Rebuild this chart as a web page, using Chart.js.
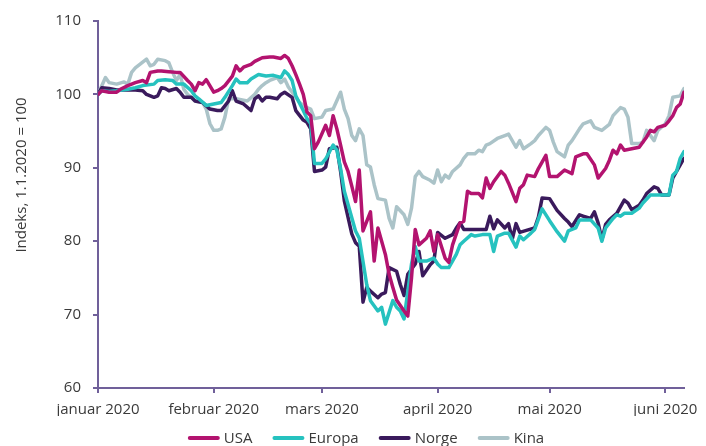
<!DOCTYPE html>
<html>
<head>
<meta charset="utf-8">
<script src="https://cdn.jsdelivr.net/npm/chart.js@4"></script>
<style>
  body { margin: 0; background: #fff; }
  canvas { display: block; }
</style>
</head>
<body>
<canvas id="chart" width="706" height="446"></canvas>
<script>
// x values are days counted from 1 January 2020
const monthStarts = [0, 31, 60, 91, 121, 152];
const monthLabels = ['januar 2020', 'februar 2020', 'mars 2020', 'april 2020', 'mai 2020', 'juni 2020'];

const yTicks = [60, 70, 80, 90, 100, 110];

const usa = [
  [0, 100], [1, 100.5], [3, 100.3], [5, 100.3], [6, 100.7], [8, 101.2], [9, 101.4], [10, 101.6],
  [12, 101.9], [13, 101.6], [14, 103], [16, 103.2], [17, 103.2], [19, 103.1], [21, 103], [22, 103],
  [24, 101.9], [25, 101.4], [26, 100.5], [27, 101.6], [28, 101.4], [29, 102], [31, 100.3], [32, 100.5],
  [33, 100.8], [34, 101.2], [36, 102.5], [37, 103.9], [38, 103.2], [39, 103.7], [41, 104.1], [42, 104.5],
  [44, 105], [46, 105.1], [47, 105.1], [49, 104.9], [50, 105.3], [51, 104.9], [52, 103.9], [53, 102.7],
  [54, 101.4], [55, 100], [56, 97.6], [57, 97.1], [58, 92.6], [59, 93.5], [61, 95.8], [62, 94.4],
  [63, 97.1], [64, 95.3], [65, 93.1], [66, 90.8], [67, 89.5], [68, 87.5], [69, 85.4], [70, 89.7],
  [71, 81.4], [73, 84], [74, 77.3], [75, 81.8], [77, 78.2], [78, 75.5], [79, 73.7], [80, 72],
  [82, 70.5], [83, 69.8], [84, 75], [85, 81.6], [86, 79.5], [88, 80.4], [89, 81.4], [90, 78.6],
  [91, 80.9], [93, 77.7], [94, 77.1], [95, 79.5], [97, 82.5], [98, 82.7], [99, 86.8], [100, 86.5],
  [102, 86.5], [103, 85.9], [104, 88.6], [105, 87.2], [106, 88.1], [108, 89.5], [109, 89], [110, 87.9],
  [112, 85.4], [113, 87.2], [114, 87.7], [115, 89], [117, 88.8], [118, 89.9], [120, 91.7], [121, 88.8],
  [123, 88.8], [125, 89.7], [127, 89.2], [128, 91.5], [130, 91.9], [131, 91.9], [133, 90.4], [134, 88.6],
  [136, 89.9], [137, 91], [138, 92.4], [139, 91.9], [140, 93.1], [141, 92.4], [143, 92.6], [145, 92.8],
  [147, 94.2], [148, 95.1], [149, 94.9], [150, 95.5], [152, 95.8], [153, 96.4], [154, 97.1], [155, 98.2],
  [156, 98.7], [157, 100.3],
];

const europa = [
  [0, 100], [1, 100.5], [3, 100.4], [5, 100.5], [8, 100.7], [10, 100.9], [12, 101.2], [15, 101.4],
  [16, 101.9], [18, 102], [20, 101.9], [21, 101.4], [23, 101.4], [25, 100.5], [26, 99.8], [27, 99.4],
  [29, 98.5], [31, 98.7], [33, 98.9], [34, 99.6], [36, 101.2], [37, 102.1], [38, 101.6], [40, 101.6],
  [41, 102.1], [43, 102.7], [45, 102.5], [47, 102.6], [49, 102.3], [50, 103.2], [51, 102.7], [52, 101.9],
  [53, 99.8], [55, 97.8], [56, 96.7], [57, 96], [58, 90.6], [60, 90.6], [61, 91.2], [63, 93.1],
  [64, 92.4], [65, 89.9], [66, 86.8], [67, 85], [69, 81.4], [70, 80.4], [72, 74.1], [73, 71.9],
  [75, 70.5], [76, 71], [77, 68.7], [79, 71.9], [80, 71], [81, 70.5], [82, 69.4], [84, 76.9],
  [85, 79.3], [86, 77.3], [88, 77.3], [90, 77.7], [91, 76.9], [92, 76.4], [94, 76.4], [96, 78.2],
  [97, 79.5], [98, 80], [100, 80.9], [101, 80.7], [103, 80.9], [105, 80.9], [106, 78.6], [107, 80.7],
  [109, 81.1], [110, 81.1], [112, 79.2], [113, 80.7], [114, 80.2], [116, 81.1], [117, 81.6], [119, 84.4],
  [121, 82.8], [123, 81.3], [125, 80], [126, 81.4], [128, 81.8], [129, 82.9], [132, 82.9], [134, 81.8],
  [135, 80], [136, 81.8], [138, 83.1], [139, 83.6], [140, 83.4], [141, 83.8], [143, 83.8], [145, 84.5],
  [146, 85.2], [148, 86.3], [151, 86.3], [153, 86.3], [154, 89], [155, 89.5], [156, 91.3], [157, 92.2],
];

const norge = [
  [0, 100], [1, 100.9], [3, 100.8], [5, 100.6], [8, 100.6], [10, 100.6], [12, 100.5], [13, 100],
  [15, 99.6], [16, 99.8], [17, 100.9], [18, 100.8], [19, 100.5], [21, 100.8], [22, 100.3], [23, 99.6],
  [25, 99.6], [26, 99.1], [28, 98.9], [30, 98], [32, 97.8], [33, 97.8], [35, 99.1], [36, 100.5],
  [37, 99.1], [39, 98.7], [41, 97.8], [42, 99.4], [43, 99.8], [44, 99.1], [45, 99.6], [46, 99.6],
  [48, 99.4], [49, 100], [50, 100.3], [52, 99.6], [53, 97.8], [55, 96.5], [56, 96.2], [57, 95.3],
  [58, 89.5], [60, 89.7], [61, 90.1], [62, 92.6], [64, 92.8], [65, 89.5], [66, 85.5], [68, 81],
  [69, 79.8], [70, 79.3], [71, 71.7], [72, 73.7], [73, 73.2], [75, 72.3], [76, 72.8], [77, 73],
  [78, 76.4], [80, 75.9], [81, 74.1], [82, 72.6], [83, 75.5], [85, 76.9], [86, 78.6], [87, 75.3],
  [89, 76.8], [90, 77.3], [91, 81.2], [93, 80.4], [95, 80.9], [96, 81.8], [97, 82.5], [98, 81.6],
  [101, 81.6], [104, 81.6], [105, 83.4], [106, 81.7], [107, 82.9], [109, 81.8], [110, 82.4], [111, 80.3],
  [112, 82.4], [113, 81.2], [115, 81.5], [117, 81.8], [118, 83.3], [119, 85.9], [121, 85.8], [123, 84.2],
  [125, 83.1], [126, 82.6], [127, 82], [129, 83.6], [130, 83.4], [132, 83.1], [133, 84], [134, 82.5],
  [135, 80.2], [136, 82.3], [137, 82.9], [139, 83.8], [141, 85.6], [142, 85.2], [143, 84.3], [145, 84.9],
  [146, 85.6], [147, 86.5], [149, 87.4], [150, 87.2], [151, 86.3], [153, 86.3], [154, 88.6], [155, 89.5],
  [156, 90.4], [157, 91.3],
];

const kina = [
  [0, 100], [2, 102.3], [3, 101.6], [5, 101.4], [7, 101.7], [8, 101.4], [9, 103], [10, 103.6],
  [13, 104.8], [14, 103.9], [15, 104.1], [16, 104.8], [18, 104.6], [19, 104.3], [20, 103], [21, 101.9],
  [22, 102.7], [23, 100.7], [24, 100], [25, 99.6], [26, 99.1], [28, 98.9], [29, 98], [30, 96],
  [31, 95.1], [32, 95.1], [33, 95.3], [34, 96.9], [35, 99.4], [37, 99.4], [40, 99.1], [42, 100],
  [43, 100.7], [44, 101.2], [45, 101.6], [46, 101.9], [48, 102.3], [49, 101.6], [50, 102.1], [51, 101],
  [53, 99.6], [54, 98.9], [55, 98.5], [56, 98.2], [57, 98], [58, 96.7], [60, 96.9], [61, 97.8],
  [63, 98], [65, 100.3], [66, 98], [67, 96.7], [68, 94.4], [69, 93.7], [70, 95.3], [71, 94.4],
  [72, 90.4], [73, 90.1], [74, 87.7], [75, 85.8], [77, 85.6], [78, 83.1], [79, 81.8], [80, 84.7],
  [82, 83.6], [83, 82.3], [84, 84.5], [85, 88.8], [86, 89.5], [87, 88.8], [89, 88.3], [90, 87.9],
  [91, 89.7], [92, 88.1], [93, 89], [94, 88.6], [95, 89.5], [97, 90.4], [98, 91.3], [99, 91.9],
  [101, 91.9], [102, 92.4], [103, 92.2], [104, 93.1], [105, 93.3], [107, 94], [109, 94.4], [110, 94.6],
  [112, 92.8], [113, 93.7], [114, 92.6], [116, 93.3], [117, 93.7], [118, 94.4], [120, 95.5], [121, 95.1],
  [122, 93.5], [123, 92.2], [125, 91.5], [126, 93.1], [127, 93.7], [129, 95.3], [130, 96], [132, 96.4],
  [133, 95.5], [135, 95.1], [137, 95.9], [138, 97.1], [140, 98.2], [141, 98], [142, 96.9], [143, 93.3],
  [145, 93.3], [146, 93.5], [147, 95.1], [149, 93.7], [150, 95.1], [152, 96], [153, 97.1], [154, 99.6],
  [156, 99.8], [157, 100.8],
];

const seriesNames = ['USA', 'Europa', 'Norge', 'Kina'];
const seriesValues = [usa, europa, norge, kina];
const seriesColors = ['#b3136f', '#26c2bf', '#3a1a5c', '#abc3c8'];

const axisColor = '#70609a';
const textColor = '#3a3a3a';
const fontFamily = "'Open Sans', sans-serif";

const toPoints = (rows) => rows.map(([x, y]) => ({ x, y }));

// rotated y axis caption, sits a bit above the middle of the axis
const axisCaption = {
  id: 'axisCaption',
  afterDraw(chart) {
    const { ctx } = chart;
    ctx.save();
    ctx.translate(22, 175);
    ctx.rotate(-Math.PI / 2);
    ctx.font = `15px ${fontFamily}`;
    ctx.fillStyle = textColor;
    ctx.textAlign = 'center';
    ctx.textBaseline = 'middle';
    ctx.fillText('Indeks, 1.1.2020 = 100', 0, 0);
    ctx.restore();
  },
};

// legend row under the x axis: short line sample followed by the name
const lineLegend = {
  id: 'lineLegend',
  afterDraw(chart) {
    const { ctx } = chart;
    const sampleLen = 32;
    const gap = 4;
    const spacing = 20;
    ctx.save();
    ctx.font = `15px ${fontFamily}`;
    const items = chart.data.datasets.map((ds) => ({
      label: ds.label,
      color: ds.borderColor,
      width: ctx.measureText(ds.label).width,
    }));
    const total = items.reduce((sum, it) => sum + sampleLen + gap + it.width, 0) + spacing * (items.length - 1);
    let x = 366 - total / 2;
    const y = 438;
    items.forEach((it) => {
      ctx.strokeStyle = it.color;
      ctx.lineWidth = 4;
      ctx.lineCap = 'round';
      ctx.beginPath();
      ctx.moveTo(x + 2, y);
      ctx.lineTo(x + sampleLen - 2, y);
      ctx.stroke();
      ctx.fillStyle = textColor;
      ctx.textBaseline = 'middle';
      ctx.textAlign = 'left';
      ctx.fillText(it.label, x + sampleLen + gap, y + 1);
      x += sampleLen + gap + it.width + spacing;
    });
    ctx.restore();
  },
};

const datasets = seriesNames.map((name, i) => ({
  label: name,
  data: toPoints(seriesValues[i]),
  borderColor: seriesColors[i],
  backgroundColor: seriesColors[i],
}));

new Chart(document.getElementById('chart'), {
  type: 'line',
  data: { datasets },
  options: {
    responsive: false,
    animation: false,
    layout: { padding: { top: 18, right: 19, bottom: 30, left: 0 } },
    elements: {
      point: { radius: 0 },
      line: { borderWidth: 3.5, tension: 0, borderJoinStyle: 'round', borderCapStyle: 'round' },
    },
    plugins: {
      legend: { display: false },
      tooltip: { enabled: false },
    },
    scales: {
      x: {
        type: 'linear',
        min: 0,
        max: 157,
        afterBuildTicks: (scale) => {
          scale.ticks = monthStarts.map((value) => ({ value }));
        },
        afterFit: (scale) => {
          scale.height = 28;
        },
        ticks: {
          autoSkip: false,
          maxRotation: 0,
          padding: 8,
          color: textColor,
          font: { family: fontFamily, size: 15 },
          callback: (value) => monthLabels[monthStarts.indexOf(value)],
        },
        grid: { drawOnChartArea: false, tickLength: 5, color: axisColor, lineWidth: 2 },
        border: { color: axisColor, width: 2 },
      },
      y: {
        min: 60,
        max: 110,
        afterBuildTicks: (scale) => {
          scale.ticks = yTicks.map((value) => ({ value }));
        },
        afterFit: (scale) => {
          scale.width = 98;
        },
        ticks: {
          padding: 12,
          color: textColor,
          font: { family: fontFamily, size: 15 },
        },
        grid: { drawOnChartArea: false, tickLength: 5, color: axisColor, lineWidth: 2 },
        border: { color: axisColor, width: 2 },
      },
    },
  },
  plugins: [axisCaption, lineLegend],
});
</script>
</body>
</html>
